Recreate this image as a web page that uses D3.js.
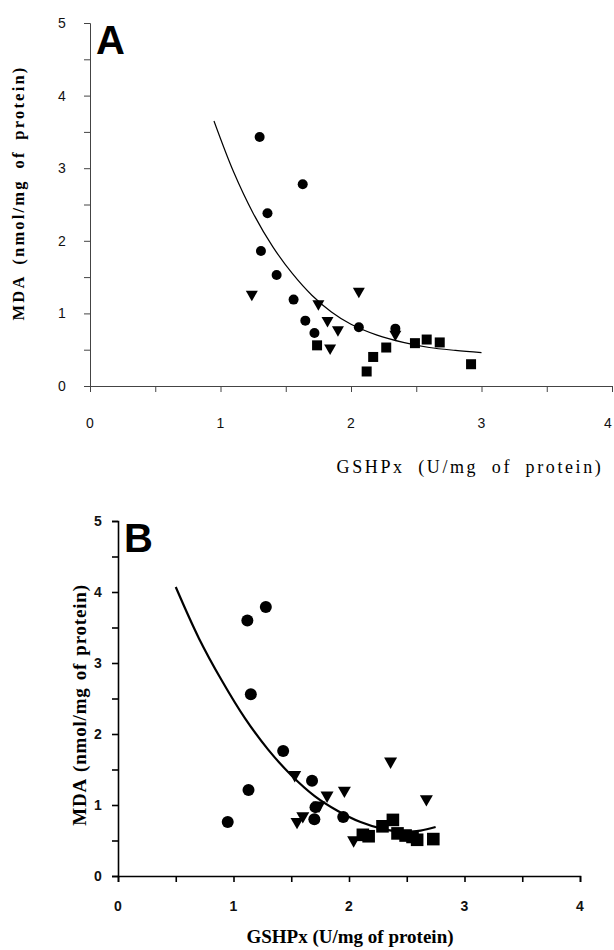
<!DOCTYPE html>
<html>
<head>
<meta charset="utf-8">
<script src="https://cdn.jsdelivr.net/npm/d3@7"></script>
<style>
  body { margin: 0; background: #fff; }
  svg { display: block; }
</style>
</head>
<body>
<div id="chart"></div>
<script>

//
// DATA
//

// panel A
const circlesA = [
    [1.30, 3.43], [1.36, 2.38], [1.63, 2.78], [1.31, 1.86], [1.43, 1.53],
    [1.56, 1.19], [1.65, 0.90], [1.72, 0.73], [2.06, 0.81], [2.34, 0.79]
];
const trianglesA = [
    [1.24, 1.25], [1.75, 1.12], [1.82, 0.89], [1.90, 0.76],
    [2.06, 1.29], [1.84, 0.51], [2.34, 0.70]
];
const squaresA = [
    [1.74, 0.56], [2.12, 0.20], [2.17, 0.40], [2.27, 0.53],
    [2.49, 0.59], [2.58, 0.64], [2.68, 0.60], [2.92, 0.30]
];
const curveA = [
    [0.95, 3.65], [1.10, 2.95], [1.25, 2.38], [1.40, 1.92], [1.55, 1.55],
    [1.70, 1.25], [1.85, 1.02], [2.00, 0.85], [2.20, 0.70], [2.40, 0.60],
    [2.60, 0.53], [2.80, 0.49], [3.00, 0.46]
];

// panel B
const circlesB = [
    [0.95, 0.76], [1.12, 3.60], [1.15, 2.56], [1.13, 1.21], [1.28, 3.79],
    [1.43, 1.76], [1.68, 1.34], [1.70, 0.80], [1.71, 0.97], [1.95, 0.83]
];
const trianglesB = [
    [1.53, 1.41], [1.55, 0.75], [1.60, 0.83], [1.74, 0.98], [1.81, 1.12],
    [1.96, 1.19], [2.04, 0.49], [2.36, 1.60], [2.67, 1.07]
];
const squaresB = [
    [2.12, 0.58], [2.17, 0.56], [2.29, 0.70], [2.38, 0.79], [2.42, 0.60],
    [2.49, 0.57], [2.55, 0.55], [2.59, 0.51], [2.73, 0.52]
];
const curveB = [
    [0.50, 4.07], [0.70, 3.35], [0.90, 2.75], [1.10, 2.22], [1.30, 1.78],
    [1.50, 1.42], [1.70, 1.13], [1.90, 0.92], [2.10, 0.76], [2.30, 0.66],
    [2.50, 0.62], [2.62, 0.64], [2.75, 0.69]
];

const xTicks = [0, 1, 2, 3, 4];
const yTicks = [0, 1, 2, 3, 4, 5];
const minorTicks = [0.5, 1.5, 2.5, 3.5, 4.5];
const xTitle = 'GSHPx (U/mg of protein)';
const yTitle = 'MDA (nmol/mg of protein)';

//
// SVG
//

const width = 614;
const height = 950;
const svg = d3.select('#chart')
    .append('svg')
        .attr('width', width)
        .attr('height', height);

const panels = [
    {
        label: 'A', circles: circlesA, triangles: trianglesA, squares: squaresA, curve: curveA,
        left: 90, right: 612, top: 23, bottom: 386,
        bold: false, axisColor: '#444', lineWidth: 1.2, r: 5, tri: 6, sq: 5,
        tickSize: 14,
        xTitleSize: 18, xTitleSpacing: 2.6, yTitleSize: 16.5, yTitleSpacing: 2.2,
        xTitleX: 470, xTitleY: 473, yTitleX: 24, yTitleY: 193,
        tickLabelY: 428, yLabelX: 62
    },
    {
        label: 'B', circles: circlesB, triangles: trianglesB, squares: squaresB, curve: curveB,
        left: 118, right: 580, top: 521, bottom: 876,
        bold: true, axisColor: '#000', lineWidth: 2.2, r: 6, tri: 6.5, sq: 6.3,
        tickSize: 14,
        xTitleSize: 19, xTitleSpacing: 0, yTitleSize: 19, yTitleSpacing: 0.8,
        xTitleX: 350, xTitleY: 943, yTitleX: 86, yTitleY: 705,
        tickLabelY: 911, yLabelX: 98
    }
];

panels.forEach(p => drawPanel(p));

function drawPanel(p) {

    const g = svg.append('g');
    const sans = 'Arial, "Liberation Sans", sans-serif';
    const serif = '"Liberation Serif", "Times New Roman", serif';

    // scales
    const x = d3.scaleLinear().domain([0, 4]).range([p.left, p.right]);
    const y = d3.scaleLinear().domain([0, 5]).range([p.bottom, p.top]);

    // axes
    const xAxis = d3.axisBottom(x)
        .tickValues(xTicks.concat(minorTicks.slice(0, 4)))
        .tickSize(6)
        .tickFormat('');
    const yAxis = d3.axisLeft(y)
        .tickValues(yTicks.concat(minorTicks))
        .tickSize(6)
        .tickFormat('');

    const gx = g.append('g')
        .attr('transform', `translate(0,${p.bottom})`)
        .call(xAxis);
    const gy = g.append('g')
        .attr('transform', `translate(${p.left},0)`)
        .call(yAxis);

    [gx, gy].forEach(a => {
        a.selectAll('path, line')
            .attr('stroke', p.axisColor)
            .attr('stroke-width', p.bold ? 1.6 : 1);
    });

    // tick labels (last x label pulled in so it is not cut at the edge)
    g.selectAll('.xlab')
        .data(xTicks)
        .join('text')
            .attr('x', d => d == 4 && !p.bold ? x(d) - 4 : x(d))
            .attr('y', p.tickLabelY)
            .attr('text-anchor', 'middle')
            .attr('font-family', sans)
            .attr('font-size', p.tickSize)
            .attr('font-weight', p.bold ? 'bold' : 'normal')
            .attr('fill', '#111')
            .text(d => d);

    g.selectAll('.ylab')
        .data(yTicks)
        .join('text')
            .attr('x', p.yLabelX)
            .attr('y', d => y(d))
            .attr('dy', '0.36em')
            .attr('text-anchor', 'middle')
            .attr('font-family', sans)
            .attr('font-size', p.tickSize)
            .attr('font-weight', p.bold ? 'bold' : 'normal')
            .attr('fill', '#111')
            .text(d => d);

    // titles
    g.append('text')
        .attr('x', p.xTitleX)
        .attr('y', p.xTitleY)
        .attr('text-anchor', 'middle')
        .attr('font-family', serif)
        .attr('font-size', p.xTitleSize)
        .attr('font-weight', p.bold ? 'bold' : 'normal')
        .attr('letter-spacing', p.xTitleSpacing)
        .attr('word-spacing', p.xTitleSpacing * 2.5)
        .text(xTitle);

    g.append('text')
        .attr('transform', `translate(${p.yTitleX},${p.yTitleY}) rotate(-90)`)
        .attr('text-anchor', 'middle')
        .attr('font-family', serif)
        .attr('font-size', p.yTitleSize)
        .attr('font-weight', 'bold')
        .attr('letter-spacing', p.yTitleSpacing)
        .attr('word-spacing', p.yTitleSpacing * 2)
        .text(yTitle);

    // panel letter
    g.append('text')
        .attr('x', p.left + 6)
        .attr('y', p.top + 31)
        .attr('font-family', sans)
        .attr('font-size', 40)
        .attr('font-weight', 'bold')
        .text(p.label);

    // fitted curve
    const line = d3.line()
        .x(d => x(d[0]))
        .y(d => y(d[1]))
        .curve(d3.curveCatmullRom);

    g.append('path')
        .datum(p.curve)
            .attr('fill', 'none')
            .attr('stroke', '#000')
            .attr('stroke-width', p.lineWidth)
            .attr('d', line);

    // markers
    g.selectAll('.circ')
        .data(p.circles)
        .join('circle')
            .attr('cx', d => x(d[0]))
            .attr('cy', d => y(d[1]))
            .attr('r', p.r)
            .attr('fill', '#000');

    const s = p.tri;
    g.selectAll('.tri')
        .data(p.triangles)
        .join('path')
            .attr('transform', d => `translate(${x(d[0])},${y(d[1])})`)
            .attr('d', `M${-s},${-s * 0.75}L${s},${-s * 0.75}L0,${s}Z`)
            .attr('fill', '#000');

    g.selectAll('.sq')
        .data(p.squares)
        .join('rect')
            .attr('x', d => x(d[0]) - p.sq)
            .attr('y', d => y(d[1]) - p.sq)
            .attr('width', p.sq * 2)
            .attr('height', p.sq * 2)
            .attr('fill', '#000');
}

</script>
</body>
</html>
